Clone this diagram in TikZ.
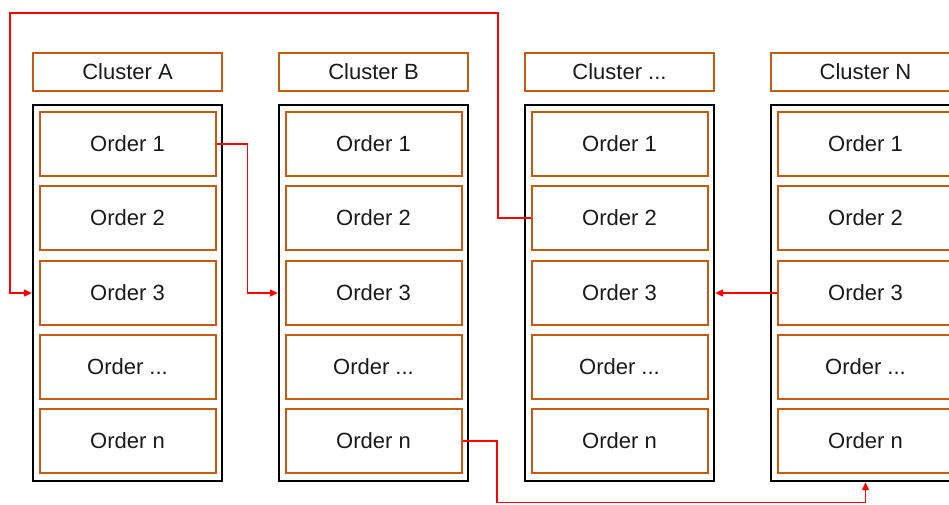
\documentclass[tikz,border=0pt]{standalone}
\usepackage{fontspec}
\setmainfont{Liberation Sans}
\usetikzlibrary{arrows.meta}
\definecolor{boxorange}{HTML}{C55A11}
\definecolor{linkred}{HTML}{FF0000}
\definecolor{txt}{HTML}{1A1A1A}
\begin{document}
\begin{tikzpicture}[x=1pt,y=-1pt,
  hdr/.style={draw=boxorange, line width=2.6pt, minimum width=189pt, minimum height=38pt, inner sep=0pt, font=\fontsize{22}{26}\selectfont, text=txt},
  cont/.style={draw=black, line width=2.3pt, minimum width=189pt, minimum height=376pt, inner sep=0pt},
  ord/.style={draw=boxorange, line width=2pt, minimum width=176pt, minimum height=64pt, inner sep=0pt, font=\fontsize{22}{26}\selectfont, text=txt},
  link/.style={draw=linkred, line width=1.8pt},
  arr/.style={link, -{Triangle[length=8pt,width=7pt]}}]
\useasboundingbox (0,0) rectangle (949,504);
\clip (0,0) rectangle (949,504);
\fill[white] (0,0) rectangle (949,504);
\foreach \k/\x/\t in {a/127.5/{Cluster A}, b/373.5/{Cluster B}, c/619.5/{Cluster ...}, n/865.5/{Cluster N}}{
  \node[hdr] (h\k) at (\x,72) {\t};
  \node[cont] (c\k) at (\x,293) {};
  \foreach \r/\y/\o in {1/144/{Order 1}, 2/218/{Order 2}, 3/293/{Order 3}, 4/367/{Order ...}, 5/441/{Order n}}{
    \node[ord] (o\k\r) at (\x,\y) {\o};
  }
}
\coordinate (topr) at (498,13);
\coordinate (topl) at (10,13);
\coordinate (botl) at (497,502.5);
\draw[arr] (oa1.east) -- ++(31,0) |- (cb.west |- ob3.center);
\draw[arr] (oc2.west) -| (topr) -- (topl) |- (ca.west |- oa3.center);
\draw[arr] (on3.west) -- (cc.east |- on3.center);
\draw[arr] (ob5.east) -| (botl) -| (cn.south);
\end{tikzpicture}
\end{document}
